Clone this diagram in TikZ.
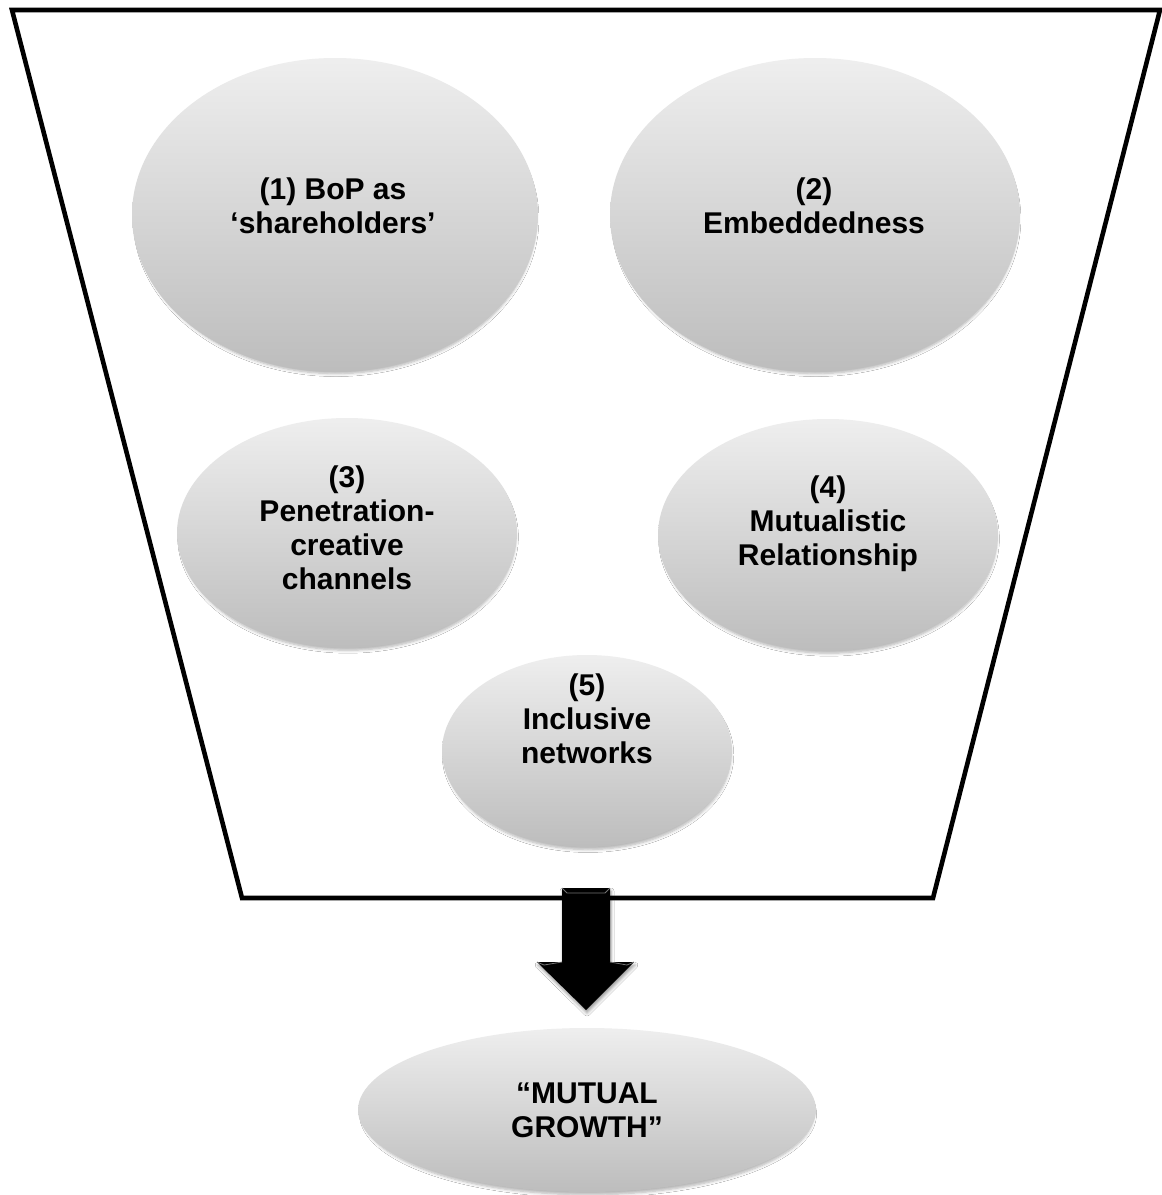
\documentclass[tikz,border=0pt]{standalone}
\usepackage{fontspec}
\setmainfont{Liberation Sans}
\usetikzlibrary{shapes.geometric,shadows.blur}

\tikzset{
  bubble/.style={ellipse, draw=none, inner sep=0pt,
    top color=gray!13, bottom color=gray!52, shading angle=0,
    blur shadow={shadow xshift=1pt, shadow yshift=-4pt, shadow scale=0.985,
      shadow blur radius=3pt, shadow blur steps=6, shadow opacity=30}},
  caption/.style={align=center, inner sep=0pt,
    font=\fontsize{30}{34}\selectfont\bfseries},
  funnel/.style={line width=4.6pt, line join=miter, draw=black},
  bigarrow/.style={fill=black,
    blur shadow={shadow xshift=1pt, shadow yshift=-3pt,
      shadow blur radius=3pt, shadow opacity=40}}
}

\begin{document}
\begin{tikzpicture}[x=1pt, y=-1pt]
  \useasboundingbox (0,0) rectangle (1162,1195);
  \fill[white] (0,0) rectangle (1162,1195);

  % funnel outline
  \coordinate (ftl) at (12,10);
  \coordinate (ftr) at (1160,10);
  \coordinate (fbr) at (933,898);
  \coordinate (fbl) at (242,898);
  \draw[funnel] (ftl) -- (ftr) -- (fbr) -- (fbl) -- cycle;

  % the five elements inside the funnel
  \node[bubble, minimum width=406pt, minimum height=314pt] (e1) at (335,215) {};
  \node[bubble, minimum width=410pt, minimum height=314pt] (e2) at (815,215) {};
  \node[bubble, minimum width=340pt, minimum height=230pt] (e3) at (347,533) {};
  \node[bubble, minimum width=340pt, minimum height=232pt] (e4) at (828,535) {};
  \node[bubble, minimum width=290pt, minimum height=192pt] (e5) at (587,751) {};

  \node[caption] (t1) at (333,206) {(1) BoP as\\‘shareholders’};
  \node[caption] (t2) at (814,206) {(2)\\Embeddedness};
  \node[caption] (t3) at (347,528) {(3)\\Penetration-\\creative\\channels};
  \node[caption] (t4) at (828,524) {(4)\\Mutualistic\\Relationship};
  \node[caption] (t5) at (587,719) {(5)\\Inclusive\\networks};

  % outcome
  \node[bubble, minimum width=458pt, minimum height=164pt] (e6) at (587,1110) {};
  \node[caption] (t6) at (587,1110) {“MUTUAL\\GROWTH”};

  % block arrow from the funnel to the outcome
  \coordinate (as1) at (562,888);
  \coordinate (as2) at (610,888);
  \coordinate (ah1) at (610,962);
  \coordinate (ah2) at (634,962);
  \coordinate (atip) at (586,1010);
  \coordinate (ah3) at (537,962);
  \coordinate (ah4) at (562,962);
  \path[bigarrow] (as1) -- (as2) -- (ah1) -- (ah2) -- (atip) -- (ah3) -- (ah4) -- cycle;
  \draw[black!55, line width=0.8pt] (as1) -- ++(5,5) -- ([shift={(-5,5)}]as2) -- (as2);
  \draw[black!55, line width=0.8pt] (ah3) -- ++(7,3) -- (ah4);
  \draw[black!55, line width=0.8pt] (ah2) -- ++(-7,3) -- (ah1);
\end{tikzpicture}
\end{document}
